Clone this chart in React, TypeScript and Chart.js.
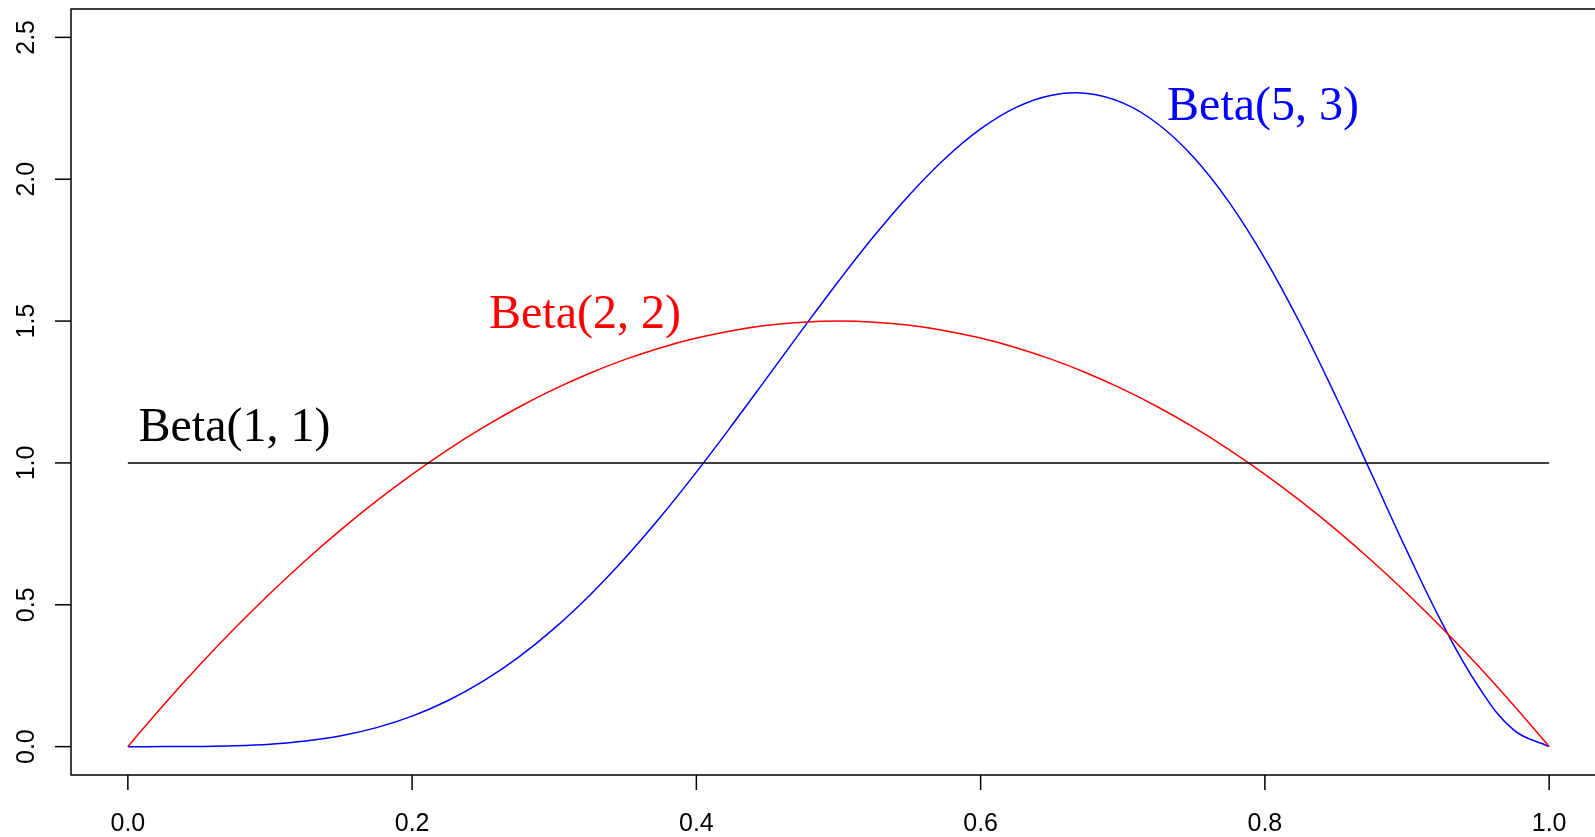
import React, { useEffect, useRef } from "react";
import { Chart, registerables } from "chart.js";

Chart.register(...registerables);

// sample positions along x
const xValues = [
  0, 0.025, 0.05, 0.075, 0.1, 0.125, 0.15, 0.175, 0.2, 0.225, 0.25, 0.275, 0.3, 0.325, 0.35, 0.375, 0.4,
  0.425, 0.45, 0.475, 0.5, 0.525, 0.55, 0.575, 0.6, 0.625, 0.65, 0.675, 0.7, 0.725, 0.75, 0.775, 0.8,
  0.825, 0.85, 0.875, 0.9, 0.925, 0.95, 0.975, 1,
];

const beta11 = [
  1, 1, 1, 1, 1, 1, 1, 1, 1, 1, 1, 1, 1, 1, 1, 1, 1, 1, 1, 1, 1, 1, 1, 1, 1, 1, 1, 1, 1, 1, 1, 1, 1, 1, 1,
  1, 1, 1, 1, 1, 1,
];

const beta22 = [
  0, 0.14625, 0.285, 0.41625, 0.54, 0.65625, 0.765, 0.86625, 0.96, 1.04625, 1.125, 1.19625, 1.26, 1.31625,
  1.365, 1.40625, 1.44, 1.46625, 1.485, 1.49625, 1.5, 1.49625, 1.485, 1.46625, 1.44, 1.40625, 1.365,
  1.31625, 1.26, 1.19625, 1.125, 1.04625, 0.96, 0.86625, 0.765, 0.65625, 0.54, 0.41625, 0.285, 0.14625, 0,
];

const beta53 = [
  0, 0.00004, 0.00059, 0.00284, 0.0085, 0.01963, 0.0384, 0.06703, 0.10752, 0.16163, 0.23071, 0.31564,
  0.41675, 0.53376, 0.66571, 0.8111, 0.96768, 1.1326, 1.30247, 1.47329, 1.64063, 1.79977, 1.94565,
  2.07318, 2.17728, 2.25306, 2.29604, 2.30235, 2.26895, 2.19386, 2.07642, 1.91762, 1.72032, 1.48964,
  1.23324, 0.96171, 0.68891, 0.43239, 0.21381, 0.0593, 0,
];

const xTicks = [0, 0.2, 0.4, 0.6, 0.8, 1.0];
const yTicks = [0, 0.5, 1.0, 1.5, 2.0, 2.5];

const labelTexts = ["Beta(1, 1)", "Beta(2, 2)", "Beta(5, 3)"];
const labelX = [0.075, 0.3216, 0.7987];
const labelY = [1.079, 1.477, 2.207];
const labelColors = ["#000000", "#ff0000", "#0000ff"];

const CANVAS_W = 1620;
const CANVAS_H = 837;

const axesPlugin = {
  id: "rAxes",
  afterDraw(chart: any) {
    const ctx = chart.ctx;
    const { left, top, right, bottom } = chart.chartArea;
    const xs = chart.scales.x;
    const ys = chart.scales.y;
    ctx.save();
    ctx.strokeStyle = "#000";
    ctx.lineWidth = 1.5;
    ctx.strokeRect(left, top, right - left, bottom - top);

    // x ticks
    ctx.fillStyle = "#000";
    ctx.font = "25px 'Liberation Sans', Arial, sans-serif";
    ctx.textAlign = "center";
    ctx.textBaseline = "alphabetic";
    xTicks.forEach((v) => {
      const px = xs.getPixelForValue(v);
      ctx.beginPath();
      ctx.moveTo(px, bottom);
      ctx.lineTo(px, bottom + 15);
      ctx.stroke();
      ctx.fillText(v.toFixed(1), px, 831);
    });

    // y ticks
    yTicks.forEach((v) => {
      const py = ys.getPixelForValue(v);
      ctx.beginPath();
      ctx.moveTo(left, py);
      ctx.lineTo(left - 16, py);
      ctx.stroke();
      ctx.save();
      ctx.translate(34, py);
      ctx.rotate(-Math.PI / 2);
      ctx.textAlign = "center";
      ctx.textBaseline = "alphabetic";
      ctx.fillText(v.toFixed(1), 0, 0);
      ctx.restore();
    });

    // curve labels
    ctx.font = "48px 'Liberation Serif', 'Times New Roman', serif";
    ctx.textAlign = "center";
    ctx.textBaseline = "alphabetic";
    labelTexts.forEach((t, i) => {
      ctx.fillStyle = labelColors[i];
      ctx.fillText(t, xs.getPixelForValue(labelX[i]), ys.getPixelForValue(labelY[i]));
    });
    ctx.restore();
  },
};

export default function App() {
  const ref = useRef<HTMLCanvasElement | null>(null);

  useEffect(() => {
    if (!ref.current) return;
    const mk = (arr: number[]) => xValues.map((x, i) => ({ x, y: arr[i] }));
    const chart = new Chart(ref.current, {
      type: "scatter",
      data: {
        datasets: [
          {
            data: mk(beta11),
            borderColor: "#000000",
            showLine: true,
            pointRadius: 0,
            borderWidth: 1.5,
          },
          {
            data: mk(beta22),
            borderColor: "#ff0000",
            showLine: true,
            pointRadius: 0,
            borderWidth: 1.5,
            tension: 0.4,
          },
          {
            data: mk(beta53),
            borderColor: "#0000ff",
            showLine: true,
            pointRadius: 0,
            borderWidth: 1.5,
            tension: 0.4,
          },
        ],
      } as any,
      options: {
        animation: false,
        responsive: false,
        devicePixelRatio: 1,
        layout: { padding: { left: 71, top: 9, right: CANVAS_W - 1606, bottom: CANVAS_H - 775 } },
        plugins: { legend: { display: false }, tooltip: { enabled: false } },
        events: [],
        scales: {
          x: { type: "linear", min: -0.04, max: 1.04, display: false },
          y: { type: "linear", min: -0.1, max: 2.6, display: false },
        },
      } as any,
      plugins: [axesPlugin],
    });
    return () => chart.destroy();
  }, []);

  return (
    <div
      style={{
        position: "fixed",
        left: 0,
        top: 0,
        width: 1595,
        height: 837,
        overflow: "hidden",
        background: "#fff",
      }}
    >
      <canvas ref={ref} width={CANVAS_W} height={CANVAS_H} style={{ width: CANVAS_W, height: CANVAS_H, display: "block" }} />
    </div>
  );
}
